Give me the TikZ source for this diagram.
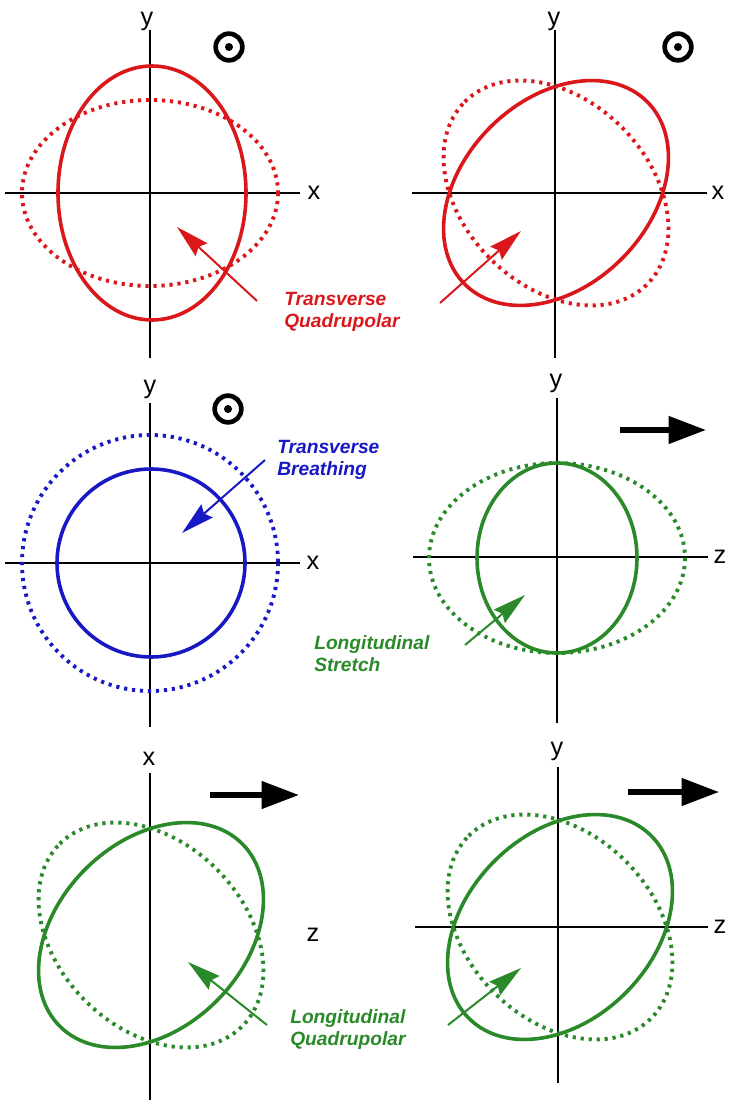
\documentclass[tikz,border=0pt]{standalone}
\usepackage{fontspec}
\setmainfont{Liberation Sans}
\usetikzlibrary{arrows.meta}
\definecolor{qred}{RGB}{218,24,28}
\definecolor{qblue}{RGB}{24,24,196}
\definecolor{qgreen}{RGB}{42,138,42}
\begin{document}
\begin{tikzpicture}[x=0.75pt,y=-0.75pt,
  axis/.style={line width=1.1pt},
  axlabel/.style={font=\fontsize{19}{19}\selectfont, inner sep=0pt},
  solidring/.style={line width=2.7pt},
  dotring/.style={line width=2.9pt, dash pattern=on 2.4pt off 3.6pt},
  pointer/.style={line width=1.5pt, -{Stealth[length=25pt,width=13pt,inset=3pt]}},
  motion/.style={line width=4pt, -{Triangle[length=28pt,width=20pt]}},
  modelabel/.style={font=\fontsize{14.4}{16.8}\selectfont\bfseries\itshape, align=left, inner sep=0pt, anchor=north west},
  odotring/.style={circle, draw, line width=3.5pt, minimum size=20pt, inner sep=0pt},
]
\useasboundingbox (0,0) rectangle (729,1105);

% ---------- Panel 1: transverse quadrupolar (x-y) ----------
\draw[axis] (150,30) -- (150,358);
\draw[axis] (5,193) -- (300,193);
\node[axlabel] (y1) at (147,21) {y};
\node[axlabel] (x1) at (314,193) {x};
\node[odotring] (s1) at (229,47) {};
\fill (s1.center) circle (3pt);
\draw[qred, dotring] (150,193) ellipse [x radius=128, y radius=93];
\draw[qred, solidring] (152,193) ellipse [x radius=94, y radius=127];
\node[modelabel, text=qred] (l1) at (284,292) {Transverse\\Quadrupolar};
\coordinate (t1) at (257,301);
\coordinate (h1) at (177,227);
\draw[qred, pointer] (t1) -- (h1);

% ---------- Panel 2: transverse quadrupolar, rotated ----------
\draw[axis] (555,30) -- (555,358);
\draw[axis] (412,193) -- (707,193);
\node[axlabel] (y2) at (554,21) {y};
\node[axlabel] (x2) at (718,193) {x};
\node[odotring] (s2) at (678,47) {};
\fill (s2.center) circle (3pt);
\draw[qred, dotring, rotate around={135:(556,193)}] (556,193) ellipse [x radius=129, y radius=93];
\draw[qred, solidring, rotate around={45:(556,193)}] (556,193) ellipse [x radius=129, y radius=93];
\coordinate (t2) at (440,303);
\coordinate (h2) at (521,231);
\draw[qred, pointer] (t2) -- (h2);

% ---------- Panel 3: transverse breathing ----------
\draw[axis] (150,403) -- (150,727);
\draw[axis] (5,563) -- (300,563);
\node[axlabel] (y3) at (150,389) {y};
\node[axlabel] (x3) at (313,563) {x};
\node[odotring] (s3) at (228,409) {};
\fill (s3.center) circle (3pt);
\draw[qblue, dotring] (150,563) circle [radius=128];
\draw[qblue, solidring] (151,563) circle [radius=94];
\node[modelabel, text=qblue] (l3) at (277,440) {Transverse\\Breathing};
\coordinate (t3) at (265,460);
\coordinate (h3) at (182,533);
\draw[qblue, pointer] (t3) -- (h3);

% ---------- Panel 4: longitudinal stretch (z-y) ----------
\draw[axis] (557,398) -- (557,723);
\draw[axis] (413,557) -- (708,557);
\node[axlabel] (y4) at (556,383) {y};
\node[axlabel] (z4) at (720,557) {z};
\coordinate (m4a) at (620,430);
\coordinate (m4b) at (706,430);
\draw[motion] (m4a) -- (m4b);
\draw[qgreen, dotring] (557,558) ellipse [x radius=128, y radius=95];
\draw[qgreen, solidring] (557,558) ellipse [x radius=80, y radius=95];
\node[modelabel, text=qgreen] (l4) at (314,635) {Longitudinal\\Stretch};
\coordinate (t4) at (465,645);
\coordinate (h4) at (525,595);
\draw[qgreen, pointer] (t4) -- (h4);

% ---------- Panel 5: longitudinal quadrupolar (z-x) ----------
\draw[axis] (150,773) -- (150,1100);
\node[axlabel] (x5) at (149,759) {x};
\node[axlabel] (z5) at (313,935) {z};
\coordinate (m5a) at (210,795);
\coordinate (m5b) at (299,795);
\draw[motion] (m5a) -- (m5b);
\draw[qgreen, dotring, rotate around={135:(151,935)}] (151,935) ellipse [x radius=129, y radius=93];
\draw[qgreen, solidring, rotate around={45:(151,935)}] (151,935) ellipse [x radius=129, y radius=93];
\node[modelabel, text=qgreen] (l5) at (290,1009) {Longitudinal\\Quadrupolar};
\coordinate (t5) at (267,1025);
\coordinate (h5) at (188,962);
\draw[qgreen, pointer] (t5) -- (h5);

% ---------- Panel 6: longitudinal quadrupolar (z-y) ----------
\draw[axis] (558,767) -- (558,1083);
\draw[axis] (415,927) -- (708,927);
\node[axlabel] (y6) at (557,751) {y};
\node[axlabel] (z6) at (720,927) {z};
\coordinate (m6a) at (628,792);
\coordinate (m6b) at (719,792);
\draw[motion] (m6a) -- (m6b);
\draw[qgreen, dotring, rotate around={135:(560,927)}] (560,927) ellipse [x radius=129, y radius=93];
\draw[qgreen, solidring, rotate around={45:(560,927)}] (560,927) ellipse [x radius=129, y radius=93];
\coordinate (t6) at (448,1025);
\coordinate (h6) at (521,968);
\draw[qgreen, pointer] (t6) -- (h6);
\end{tikzpicture}
\end{document}
